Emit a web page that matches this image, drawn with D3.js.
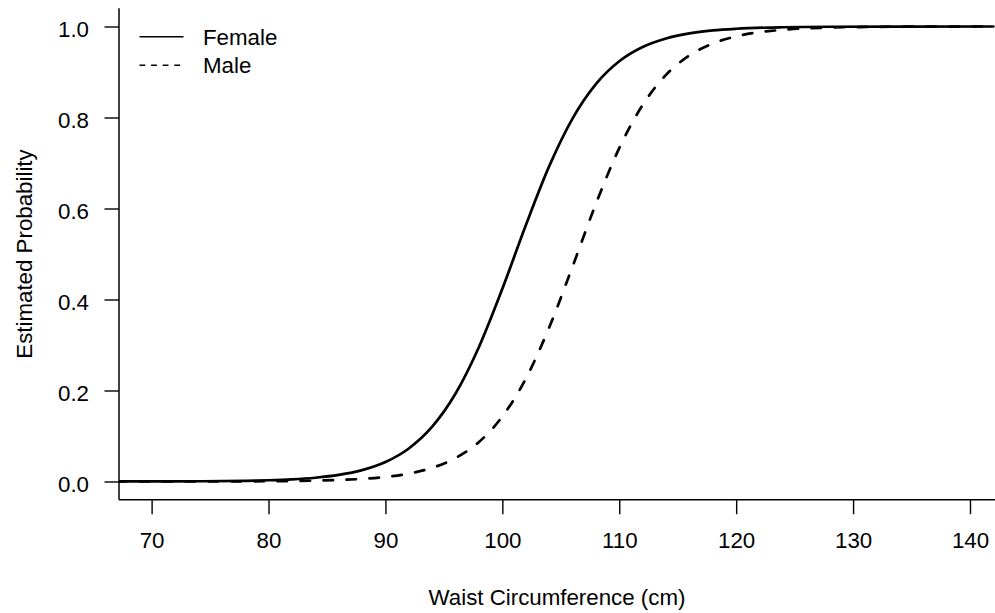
<!DOCTYPE html>
<html>
<head>
<meta charset="utf-8">
<script src="https://cdn.jsdelivr.net/npm/d3@7"></script>
<style>
  html, body { margin: 0; padding: 0; background: #fff; }
  svg { display: block; }
  text { font-family: "Liberation Sans", Arial, Helvetica, sans-serif; fill: #000; }
</style>
</head>
<body>
<svg id="chart" width="995" height="613"></svg>
<script>
// Waist circumference (cm) at which the fitted probabilities are listed
const waist = [67, 70, 74, 78, 80, 82, 84, 86, 88, 90, 92, 94, 96, 98, 100, 102, 104, 106,
               108, 110, 112, 114, 116, 118, 120, 124, 128, 134, 142];

// Estimated probability for each sex
const female = [0.0001, 0.0002, 0.0005, 0.0015, 0.0027, 0.0047, 0.0083, 0.0144, 0.0249, 0.0428,
                0.0726, 0.1205, 0.1934, 0.2957, 0.4236, 0.5627, 0.6925, 0.7977, 0.8734, 0.9236,
                0.9549, 0.9737, 0.9848, 0.9913, 0.9950, 0.9984, 0.9995, 0.9999, 1.0000];
const male = [0.0000, 0.0000, 0.0001, 0.0004, 0.0006, 0.0011, 0.0019, 0.0033, 0.0057, 0.0100,
              0.0174, 0.0301, 0.0516, 0.0869, 0.1428, 0.2258, 0.3381, 0.4720, 0.6102, 0.7327,
              0.8275, 0.8936, 0.9363, 0.9626, 0.9783, 0.9928, 0.9976, 0.9996, 1.0000];

// Axis ticks
const xTicks = [70, 80, 90, 100, 110, 120, 130, 140];
const yTicks = [0.0, 0.2, 0.4, 0.6, 0.8, 1.0];

const seriesNames = ["Female", "Male"];

const svg = d3.select("#chart");

// Plot region (left/bottom "L" frame)
const plotLeft = 119, plotRight = 995, plotTop = 8.3, plotBottom = 499.7;

const x = d3.scaleLinear().domain([67.21, 142.14]).range([plotLeft, plotRight]);
const y = d3.scaleLinear().domain([-0.04, 1.04]).range([plotBottom, plotTop]);

const fontSize = 22.3;

// Curves, clipped to the plot region
svg.append("clipPath").attr("id", "plotclip")
  .append("rect")
  .attr("x", plotLeft).attr("y", plotTop)
  .attr("width", plotRight - plotLeft).attr("height", plotBottom - plotTop);

const line = d3.line()
  .x(d => x(d[0]))
  .y(d => y(d[1]))
  .curve(d3.curveMonotoneX);

const curves = svg.append("g").attr("clip-path", "url(#plotclip)");

curves.append("path")
  .datum(waist.map((w, i) => [w, female[i]]))
  .attr("d", line)
  .attr("fill", "none")
  .attr("stroke", "#000")
  .attr("stroke-width", 2.7)
  .attr("stroke-linecap", "round")
  .attr("stroke-linejoin", "round");

curves.append("path")
  .datum(waist.map((w, i) => [w, male[i]]))
  .attr("d", line)
  .attr("fill", "none")
  .attr("stroke", "#000")
  .attr("stroke-width", 2.7)
  .attr("stroke-dasharray", "9.5,13.5")
  .attr("stroke-linecap", "round")
  .attr("stroke-linejoin", "round");

// Frame lines
svg.append("line")
  .attr("x1", plotLeft).attr("x2", plotLeft)
  .attr("y1", plotTop).attr("y2", plotBottom)
  .attr("stroke", "#000").attr("stroke-width", 1.5);
svg.append("line")
  .attr("x1", plotLeft).attr("x2", plotRight)
  .attr("y1", plotBottom).attr("y2", plotBottom)
  .attr("stroke", "#000").attr("stroke-width", 1.5);

// X axis
const xAxis = svg.append("g")
  .attr("transform", `translate(0,${plotBottom})`)
  .call(d3.axisBottom(x).tickValues(xTicks).tickSize(14.5)
        .tickFormat(d3.format("d")));
xAxis.select(".domain").remove();
xAxis.selectAll(".tick line").attr("stroke", "#000").attr("stroke-width", 1.4);
xAxis.selectAll(".tick text")
  .attr("font-size", fontSize)
  .attr("font-family", "Liberation Sans, Arial, sans-serif")
  .attr("dy", "0")
  .attr("y", 48.5);

// Y axis
const yAxis = svg.append("g")
  .attr("transform", `translate(${plotLeft},0)`)
  .call(d3.axisLeft(y).tickValues(yTicks).tickSize(14.5)
        .tickFormat(d3.format(".1f")));
yAxis.select(".domain").remove();
yAxis.selectAll(".tick line").attr("stroke", "#000").attr("stroke-width", 1.4);
yAxis.selectAll(".tick text")
  .attr("font-size", fontSize)
  .attr("font-family", "Liberation Sans, Arial, sans-serif")
  .attr("x", -30)
  .attr("dy", 9.5);

// Axis titles
svg.append("text")
  .attr("x", (plotLeft + plotRight) / 2)
  .attr("y", 605)
  .attr("text-anchor", "middle")
  .attr("font-size", fontSize)
  .text("Waist Circumference (cm)");

svg.append("text")
  .attr("transform", `translate(32,${(plotTop + plotBottom) / 2}) rotate(-90)`)
  .attr("text-anchor", "middle")
  .attr("font-size", fontSize)
  .text("Estimated Probability");

// Legend
const legend = svg.append("g");
const legendRows = [
  { name: seriesNames[0], dash: null, y: 36.7 },
  { name: seriesNames[1], dash: "5.8,5.8", y: 65.2 }
];
legendRows.forEach(r => {
  legend.append("line")
    .attr("x1", 139.5).attr("x2", 183.5)
    .attr("y1", r.y).attr("y2", r.y)
    .attr("stroke", "#000").attr("stroke-width", 1.4)
    .attr("stroke-dasharray", r.dash);
  legend.append("text")
    .attr("x", 203)
    .attr("y", r.y)
    .attr("dy", 8.2)
    .attr("font-size", fontSize)
    .text(r.name);
});
</script>
</body>
</html>
